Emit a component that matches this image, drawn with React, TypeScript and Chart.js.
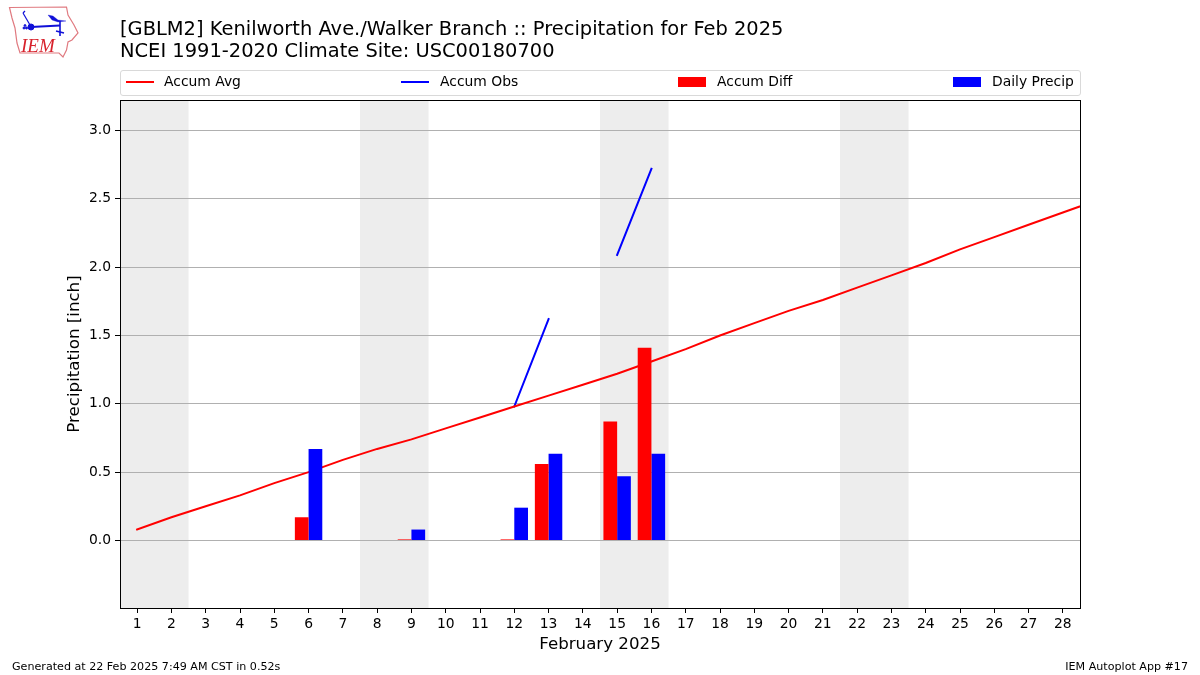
import React, { useEffect, useRef } from "react";
import { Chart, registerables } from "chart.js";

Chart.register(...registerables);

const days = Array.from({ length: 28 }, (_, i) => i + 1);
const yTicks = [0, 0.5, 1, 1.5, 2, 2.5, 3];
const avgDays = [1, 2, 3, 4, 5, 6, 7, 8, 9, 10, 11, 12, 13, 14, 15, 16, 17, 18, 19, 20, 21, 22, 23, 24, 25, 26, 27, 28, 29];
const avgValues = [0.08, 0.17, 0.25, 0.33, 0.42, 0.5, 0.59, 0.67, 0.74, 0.82, 0.9, 0.98, 1.06, 1.14, 1.22, 1.31, 1.4, 1.5, 1.59, 1.68, 1.76, 1.85, 1.94, 2.03, 2.13, 2.22, 2.31, 2.4, 2.49];
const obsDays = [12, 13, 14, 15, 16];
const obsValues = [0.98, 1.62, null, 2.09, 2.72];
const precipDays = [6, 9, 12, 13, 15, 16];
const diffValues = [0.17, 0.008, 0.008, 0.56, 0.87, 1.41];
const dailyValues = [0.67, 0.08, 0.24, 0.635, 0.47, 0.635];
const weekendBands = [[0.5, 2.5], [7.5, 9.5], [14.5, 16.5], [21.5, 23.5]];

const titleLines = [
  "[GBLM2] Kenilworth Ave./Walker Branch :: Precipitation for Feb 2025",
  "NCEI 1991-2020 Climate Site: USC00180700",
];
const legendItems = [
  { label: "Accum Avg", color: "#ff0000", kind: "line", swatch: 126, text: 164 },
  { label: "Accum Obs", color: "#0000ff", kind: "line", swatch: 401, text: 440 },
  { label: "Accum Diff", color: "#ff0000", kind: "bar", swatch: 678, text: 717 },
  { label: "Daily Precip", color: "#0000ff", kind: "bar", swatch: 953, text: 992 },
];

const FONT = "'DejaVu Sans', sans-serif";

const framePlugin = {
  id: "frame",
  beforeDraw(chart: any) {
    const { ctx, chartArea: a, scales } = chart;
    ctx.save();
    ctx.fillStyle = "#ededed";
    for (const [s, e] of weekendBands) {
      const x0 = scales.x.getPixelForValue(s);
      const x1 = scales.x.getPixelForValue(e);
      ctx.fillRect(x0, a.top, x1 - x0, a.bottom - a.top);
    }
    ctx.restore();
  },
  afterDraw(chart: any) {
    const { ctx, chartArea: a } = chart;
    ctx.save();
    ctx.strokeStyle = "#000";
    ctx.lineWidth = 1;
    ctx.strokeRect(a.left + 0.5, a.top + 0.5, a.right - a.left, a.bottom - a.top);
    ctx.restore();
  },
};

function Logo() {
  return (
    <svg width={80} height={60} style={{ position: "absolute", left: 5, top: 3 }} viewBox="5 3 80 60">
      <polygon
        points="9.5,7.5 66.5,7 68,15 74,25 78,33 72,40 68,42 66.5,50 63,57 59,53 20,53 17,43 15,28 12,18"
        fill="#fff"
        stroke="#e07a80"
        strokeWidth={1.2}
      />
      <g stroke="#1010d8" fill="#1010d8">
        <line x1={31} y1={27} x2={60} y2={25.5} strokeWidth={2} />
        <circle cx={31} cy={27} r={3} />
        <line x1={30} y1={25} x2={23} y2={13} strokeWidth={1.2} fill="none" />
        <line x1={23} y1={13} x2={25} y2={11} strokeWidth={1.2} fill="none" />
        <polygon points="48,15 53,16 58,20 66,21 58,22 52,20" strokeWidth={0.3} />
        <line x1={60} y1={21} x2={60} y2={36} strokeWidth={1.6} />
        <line x1={56} y1={31} x2={64} y2={33} strokeWidth={1.4} />
        <circle cx={24} cy={28} r={1} />
        <circle cx={26.5} cy={28} r={1} />
        <circle cx={25} cy={25.5} r={0.9} />
      </g>
      <text x={21} y={52} fill="#d8222c" fontFamily="'Liberation Serif', serif" fontStyle="italic" fontSize={19}>
        IEM
      </text>
    </svg>
  );
}

export default function App() {
  const ref = useRef<HTMLCanvasElement | null>(null);

  useEffect(() => {
    const chart = new Chart(ref.current as HTMLCanvasElement, {
      type: "bar",
      plugins: [framePlugin],
      data: {
        datasets: [
          {
            type: "line",
            label: "Accum Avg",
            data: avgDays.map((d, i) => ({ x: d, y: avgValues[i] })),
            borderColor: "#ff0000",
            backgroundColor: "#ff0000",
            borderWidth: 2,
            borderCapStyle: "square",
            pointRadius: 0,
            tension: 0,
            order: 2,
          },
          {
            type: "line",
            label: "Accum Obs",
            data: obsDays.map((d, i) => ({ x: d, y: obsValues[i] })),
            borderColor: "#0000ff",
            backgroundColor: "#0000ff",
            borderWidth: 2,
            borderCapStyle: "square",
            pointRadius: 0,
            tension: 0,
            spanGaps: false,
            order: 2,
          },
          {
            type: "bar",
            label: "Accum Diff",
            data: precipDays.map((d, i) => ({ x: d, y: diffValues[i] })),
            backgroundColor: "#ff0000",
            categoryPercentage: 0.8,
            barPercentage: 1,
            order: 1,
          },
          {
            type: "bar",
            label: "Daily Precip",
            data: precipDays.map((d, i) => ({ x: d, y: dailyValues[i] })),
            backgroundColor: "#0000ff",
            categoryPercentage: 0.8,
            barPercentage: 1,
            order: 1,
          },
        ],
      } as any,
      options: {
        responsive: false,
        animation: false,
        parsing: true,
        layout: { padding: { left: 0, top: 100, right: 120, bottom: 0 } },
        plugins: { legend: { display: false }, title: { display: false }, tooltip: { enabled: false } },
        scales: {
          x: {
            type: "linear",
            min: 0.5,
            max: 28.5,
            offset: false,
            afterBuildTicks(s: any) {
              s.ticks = days.map((d) => ({ value: d }));
            },
            afterFit(s: any) {
              s.height = 67;
            },
            grid: { offset: false, drawOnChartArea: false, color: "#000", tickColor: "#000", tickLength: 5, lineWidth: 1 },
            border: { display: false },
            ticks: {
              autoSkip: false,
              maxRotation: 0,
              minRotation: 0,
              padding: 3,
              color: "#000",
              font: { family: FONT, size: 13.89 },
              callback: (v: any) => String(v),
            },
            title: {
              display: true,
              text: "February 2025",
              color: "#000",
              font: { family: FONT, size: 16.67, lineHeight: 1 },
              padding: { top: 0, bottom: 22 },
            },
          },
          y: {
            type: "linear",
            min: -0.494,
            max: 3.223,
            afterBuildTicks(s: any) {
              s.ticks = yTicks.map((v) => ({ value: v }));
            },
            afterFit(s: any) {
              s.width = 120;
            },
            grid: { color: "#b0b0b0", tickColor: "#000", tickLength: 5, lineWidth: 1 },
            border: { display: false },
            ticks: {
              padding: 4,
              color: "#000",
              font: { family: FONT, size: 13.89 },
              callback: (v: any) => Number(v).toFixed(1),
            },
            title: {
              display: true,
              text: "Precipitation [inch]",
              color: "#000",
              font: { family: FONT, size: 16.67, lineHeight: 1 },
              padding: { top: 66, bottom: 0 },
            },
          },
        },
      } as any,
    });
    return () => chart.destroy();
  }, []);

  const textStyle: React.CSSProperties = { position: "absolute", fontFamily: FONT, color: "#000", whiteSpace: "pre" };

  return (
    <div style={{ position: "absolute", left: 0, top: 0, width: 1200, height: 675, background: "#fff", overflow: "hidden" }}>
      <canvas ref={ref} width={1200} height={675} style={{ position: "absolute", left: 0, top: 0, display: "block" }} />
      <Logo />
      {titleLines.map((t, i) => (
        <div key={t} style={{ ...textStyle, left: 120, top: 18 + i * 22, fontSize: 19.44, lineHeight: "22px" }}>
          {t}
        </div>
      ))}
      <div
        style={{
          position: "absolute",
          left: 120,
          top: 70,
          width: 959,
          height: 24,
          border: "1px solid #d9d9d9",
          borderRadius: 3,
        }}
      />
      {legendItems.map((it) => (
        <React.Fragment key={it.label}>
          <div
            style={{
              position: "absolute",
              left: it.swatch,
              width: 28,
              top: it.kind === "line" ? 81 : 77,
              height: it.kind === "line" ? 2 : 10,
              background: it.color,
            }}
          />
          <div style={{ ...textStyle, left: it.text, top: 73, fontSize: 13.89, lineHeight: "16px" }}>{it.label}</div>
        </React.Fragment>
      ))}
      <div style={{ ...textStyle, left: 12, top: 660, fontSize: 11.11, lineHeight: "13px" }}>
        Generated at 22 Feb 2025 7:49 AM CST in 0.52s
      </div>
      <div style={{ ...textStyle, right: 12, top: 660, fontSize: 11.11, lineHeight: "13px" }}>IEM Autoplot App #17</div>
    </div>
  );
}
